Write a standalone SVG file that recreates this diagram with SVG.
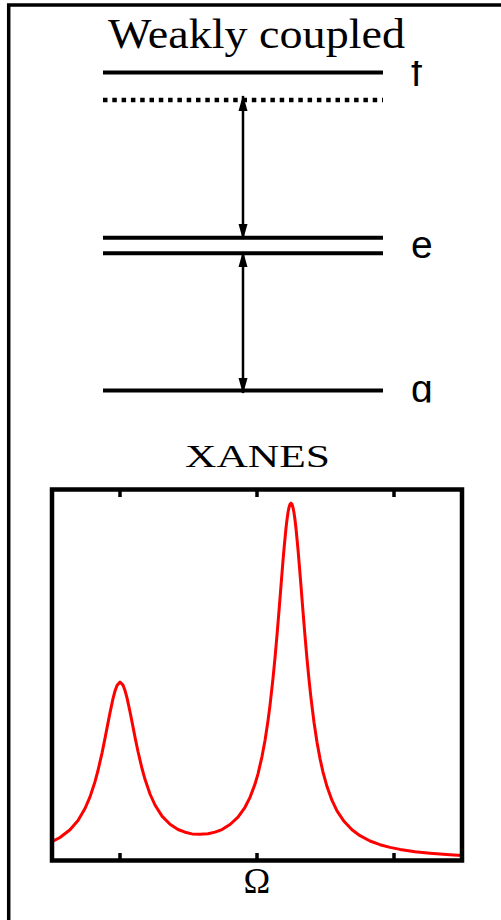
<svg xmlns="http://www.w3.org/2000/svg" width="501" height="920" viewBox="0 0 501 920">
  <style>
    .lvl { stroke: #000; stroke-width: 4; fill: none; }
    .serif { font-family: "Liberation Serif", "DejaVu Serif", serif; fill: #000; }
    .sans { font-family: "Liberation Sans", Arial, sans-serif; fill: #000; font-size: 39px; }
    .arrow { stroke: #000; stroke-width: 2.5; fill: none; }
  </style>
  <defs>
    <marker id="head" markerUnits="userSpaceOnUse" markerWidth="16" markerHeight="10" refX="15" refY="5" orient="auto-start-reverse" viewBox="0 0 16 10">
      <path d="M0,0.5 L16,5 L0,9.5 Z" fill="#000"/>
    </marker>
    <clipPath id="clipF"><rect x="400" y="61" width="60" height="40"/></clipPath>
    <clipPath id="clipG"><rect x="400" y="370" width="60" height="32.5"/></clipPath>
  </defs>
  <rect width="501" height="920" fill="#fff"/>
  <g id="frame">
    <path d="M8.7 920 V5 H501" fill="none" stroke="#000" stroke-width="3.5"/>
  </g>
  <g id="title">
    <text class="serif" x="108" y="48" font-size="43" textLength="297" lengthAdjust="spacingAndGlyphs">Weakly coupled</text>
  </g>
  <g id="level-f">
    <line class="lvl" x1="103" y1="72.5" x2="383" y2="72.5"/>
    <text class="sans" x="411" y="86" clip-path="url(#clipF)">f</text>
  </g>
  <g id="level-virtual">
    <line x1="103" y1="100" x2="383" y2="100" stroke="#000" stroke-width="4.5" stroke-dasharray="4.5 4.8"/>
  </g>
  <g id="level-e">
    <line class="lvl" x1="103" y1="237.8" x2="383" y2="237.8"/>
    <line class="lvl" x1="103" y1="253.2" x2="383" y2="253.2"/>
    <text class="sans" x="411" y="258">e</text>
  </g>
  <g id="level-g">
    <line class="lvl" x1="103" y1="390.5" x2="383" y2="390.5"/>
    <text class="sans" x="411" y="402" clip-path="url(#clipG)">g</text>
  </g>
  <g id="connectors">
    <line class="arrow" x1="243" y1="96" x2="243" y2="239" marker-start="url(#head)" marker-end="url(#head)"/>
    <line class="arrow" x1="243" y1="252" x2="243" y2="393" marker-start="url(#head)" marker-end="url(#head)"/>
  </g>
  <g id="xanes-plot">
    <text class="serif" x="185" y="467" font-size="32" textLength="145" lengthAdjust="spacingAndGlyphs">XANES</text>
    <polyline fill="none" stroke="#ff0000" stroke-width="3" stroke-linejoin="round" points="52,841.7 60,837.5 70,829.7 78,820.4 85,808.5 90,796.9 95,781.7 98,770.5 102,753.1 105,738.4 108,722.9 110,712.7 113,698.6 115,691 117,685.4 120,682 123,685.1 125,690.5 127,697.9 130,711.8 132,721.8 135,737.1 138,751.5 142,768.5 145,779.3 150,794 155,805 162,816.1 170,824.3 178,829.5 185,832.2 192,833.9 200,834.3 208,833.8 215,832.1 222,829.6 230,824.5 238,817.2 245,807.3 250,797.4 255,784.1 258,773.8 262,756.6 265,740.5 268,720.8 270,705.4 273,678.4 275,657.8 277,635.1 279,610.8 281,585.6 283,560.7 284,549 286,528.1 287,519.6 288,512.5 289,507.4 290,504.3 291,503.2 292,504.3 293,507.6 294,512.7 295,519.8 296,528.5 298,549.4 300,573.6 301,586.2 303,611.6 305,636 307,658.9 309,679.6 311,698.2 314,722.3 317,742.3 320,758.6 323,772.1 327,786.6 332,800.4 337,810.8 344,821.3 352,829.8 360,835.7 370,841 380,844.7 390,847.4 400,849.4 415,851.7 430,853.2 440,854 450,854.7 462,855.4"/>
    <rect x="52" y="489.5" width="410" height="371" fill="none" stroke="#000" stroke-width="4.5"/>
    <g stroke="#000" stroke-width="3.5">
      <line x1="120" y1="489.5" x2="120" y2="497"/>
      <line x1="257" y1="489.5" x2="257" y2="497"/>
      <line x1="394" y1="489.5" x2="394" y2="497"/>
      <line x1="120" y1="853" x2="120" y2="860.5"/>
      <line x1="257" y1="853" x2="257" y2="860.5"/>
      <line x1="394" y1="853" x2="394" y2="860.5"/>
    </g>
    <text class="serif" x="257" y="893" font-size="36" text-anchor="middle">Ω</text>
  </g>
</svg>
